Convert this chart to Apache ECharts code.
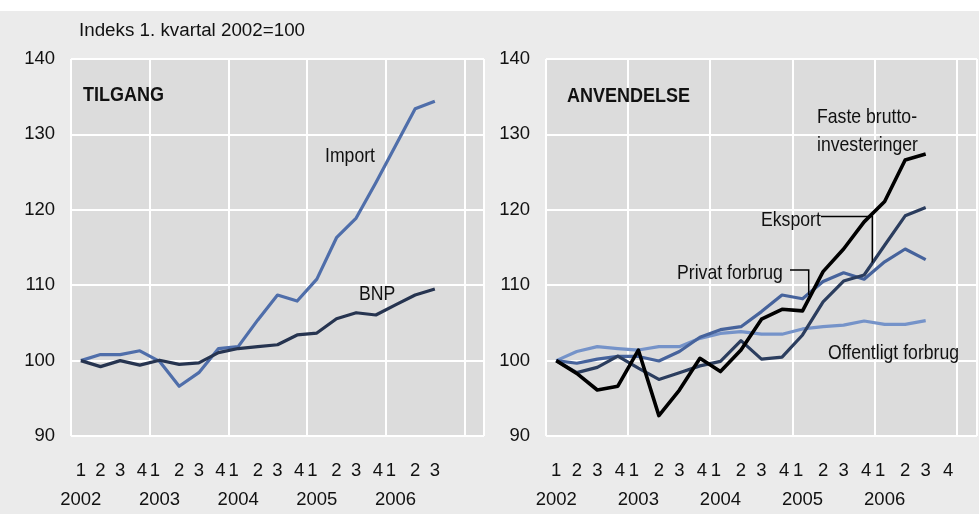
<!DOCTYPE html>
<html><head><meta charset="utf-8">
<script src="https://cdn.jsdelivr.net/npm/echarts@6/dist/echarts.min.js"></script>
<style>html,body{margin:0;padding:0;background:#fff}#c{width:979px;height:514px}</style>
</head><body><div id="c"></div><script>
// ---- data ----
const categories = ['2002K1','2002K2','2002K3','2002K4','2003K1','2003K2','2003K3','2003K4',
  '2004K1','2004K2','2004K3','2004K4','2005K1','2005K2','2005K3','2005K4',
  '2006K1','2006K2','2006K3','2006K4','2007K1'];
const quarterLabelsLeft  = ['1','2','3','4','1','2','3','4','1','2','3','4','1','2','3','4','1','2','3','',''];
const quarterLabelsRight = ['1','2','3','4','1','2','3','4','1','2','3','4','1','2','3','4','1','2','3','4',''];
const yearLabels = ['2002','','','','2003','','','','2004','','','','2005','','','','2006','','','',''];
const yMin = 90, yMax = 140, yStep = 10;

const importData = [100,100.8,100.8,101.3,99.9,96.6,98.4,101.6,101.85,105.4,108.7,107.9,110.8,116.3,118.9,123.6,128.5,133.4,134.4];
const bnpData    = [100,99.2,100,99.4,100.05,99.5,99.7,101.05,101.6,101.85,102.1,103.4,103.65,105.55,106.35,106.05,107.4,108.7,109.5];

const fasteData      = [100,98.3,96.1,96.6,101.4,92.7,96.1,100.3,98.55,101.4,105.5,106.8,106.6,111.8,114.8,118.4,121.1,126.6,127.4];
const eksportData    = [100,98.4,99.1,100.6,99.0,97.5,98.4,99.3,99.9,102.65,100.2,100.45,103.4,107.8,110.55,111.35,115.3,119.2,120.3];
const privatData     = [100,99.65,100.2,100.55,100.55,99.95,101.2,103.1,104.1,104.5,106.5,108.7,108.2,110.5,111.65,110.8,113.1,114.8,113.4];
const offentligData  = [100,101.2,101.85,101.6,101.4,101.85,101.85,102.95,103.6,103.85,103.5,103.5,104.2,104.5,104.7,105.25,104.8,104.8,105.3];

// ---- style ----
const FONT = "'Liberation Sans',Arial,sans-serif";
const TXT = '#111';
const C_IMPORT = '#4f6eaa', C_BNP = '#263450';
const C_FASTE = '#000000', C_EKS = '#2b3d5e', C_PRIV = '#46639c', C_OFF = '#7593c9';
const TICK = 18.5;

const chart = echarts.init(document.getElementById('c'), null, {renderer:'canvas'});

function qFormatter(labels){
  return function(v, i){
    const l = labels[i];
    if (!l) return '';
    if (l === '1' && i > 0) return '{a|1}';
    if (l === '4') return '{b|4}';
    return l;
  };
}
const qRich = {
  a:{padding:[0,9,0,0], fontFamily:FONT, fontSize:TICK, color:TXT},
  b:{padding:[0,0,0,4], fontFamily:FONT, fontSize:TICK, color:TXT}
};
function quarterAxis(grid, labels){
  return {type:'category', gridIndex:grid, data:categories, boundaryGap:true,
    axisLine:{show:false}, axisTick:{show:false},
    axisLabel:{interval:0, margin:25, fontFamily:FONT, fontSize:TICK, color:TXT,
      formatter:qFormatter(labels), rich:qRich},
    splitLine:{show:true, interval:(i)=>i%4===0, lineStyle:{color:'#ffffff', width:2}}};
}
function yearAxis(grid){
  return {type:'category', gridIndex:grid, data:categories, boundaryGap:true, position:'bottom', offset:29,
    axisLine:{show:false}, axisTick:{show:false}, splitLine:{show:false},
    axisLabel:{interval:0, margin:25, fontFamily:FONT, fontSize:TICK, color:TXT,
      formatter:(v,i)=>yearLabels[i]}};
}
function valAxis(grid){
  return {type:'value', gridIndex:grid, min:yMin, max:yMax, interval:yStep,
    axisLine:{show:false}, axisTick:{show:false},
    axisLabel:{margin:16, fontFamily:FONT, fontSize:TICK, color:TXT, padding:[4,0,0,0]},
    splitLine:{lineStyle:{color:'#ffffff', width:2}}};
}
function line(name, data, color, xi, yi, w){
  return {name, type:'line', data, xAxisIndex:xi, yAxisIndex:yi, symbol:'none', smooth:false,
    lineStyle:{color, width:w||3.2, join:'round'}, itemStyle:{color}, z:3, silent:true};
}

const option = {
  animation:false,
  backgroundColor:'#ffffff',
  grid:[
    {left:71, top:59, width:413, height:377, show:true, backgroundColor:'#dcdcdc', borderWidth:0},
    {left:546, top:59, width:431, height:377, show:true, backgroundColor:'#dcdcdc', borderWidth:0}
  ],
  xAxis:[quarterAxis(0, quarterLabelsLeft), yearAxis(0), quarterAxis(1, quarterLabelsRight), yearAxis(1)],
  yAxis:[valAxis(0), valAxis(1)],
  series:[
    line('Import', importData, C_IMPORT, 0, 0),
    line('BNP', bnpData, C_BNP, 0, 0),
    line('Offentligt forbrug', offentligData, C_OFF, 2, 1),
    line('Privat forbrug', privatData, C_PRIV, 2, 1),
    line('Eksport', eksportData, C_EKS, 2, 1),
    line('Faste bruttoinvesteringer', fasteData, C_FASTE, 2, 1, 3.6)
  ]
};
chart.setOption(option);

// helpers for leaders anchored in data space
function px(grid, idx, val){
  const i0 = Math.floor(idx), f = idx - i0;
  const p0 = chart.convertToPixel({gridIndex:grid}, [i0, val]);
  const p1 = chart.convertToPixel({gridIndex:grid}, [i0+1, val]);
  return [p0[0] + (p1[0]-p0[0])*f, p0[1]];
}
const eksTop = px(1, 15.4, 119.1), eksBot = px(1, 15.4, 113.0);
const privTop = px(1, 12.3, 112.0), privBot = px(1, 12.3, 108.7);

const SX = 0.84;
function txt(x, y, s, opt, sx){
  return {type:'text', x, y, scaleX:(sx===undefined?SX:sx), silent:true, z:10,
    style:Object.assign({text:s, fill:TXT, font:'21px '+FONT, textVerticalAlign:'middle', textAlign:'left'}, opt||{})};
}
chart.setOption({
  graphic:[
    {type:'rect', shape:{x:0, y:11, width:979, height:503}, style:{fill:'#ebebeb'}, z:-100, silent:true},
    txt(79, 31, 'Indeks 1. kvartal 2002=100', {font:'18.8px '+FONT}, 1),
    txt(83, 95, 'TILGANG', {font:'bold 20px '+FONT}, 0.9),
    txt(567, 96, 'ANVENDELSE', {font:'bold 20px '+FONT}, 0.9),
    txt(325, 156, 'Import'),
    txt(359, 294, 'BNP'),
    txt(817, 117, 'Faste brutto-'),
    txt(817, 145, 'investeringer'),
    txt(761, 220, 'Eksport'),
    txt(677, 273, 'Privat forbrug'),
    txt(828, 353, 'Offentligt forbrug'),
    {type:'polyline', z:9, silent:true, shape:{points:[[821, eksTop[1]], eksTop, eksBot]}, style:{stroke:'#000', lineWidth:1.5, fill:null}},
    {type:'polyline', z:9, silent:true, shape:{points:[[790, privTop[1]], privTop, privBot]}, style:{stroke:'#000', lineWidth:1.5, fill:null}}
  ]
});
</script></body></html>
